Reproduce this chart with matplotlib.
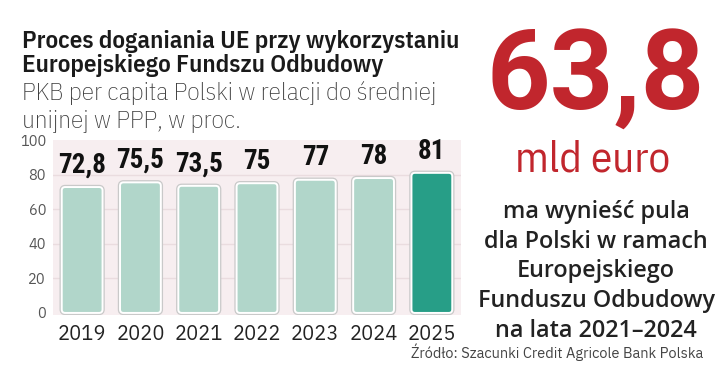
import matplotlib
matplotlib.use("Agg")
import matplotlib.pyplot as plt
from matplotlib.patches import FancyBboxPatch

years = ["2019", "2020", "2021", "2022", "2023", "2024", "2025"]
values = [72.8, 75.5, 73.5, 75, 77, 78, 81]
value_labels = ["72,8", "75,5", "73,5", "75", "77", "78", "81"]
yticks = [0, 20, 40, 60, 80, 100]

F_VAL = ["Roboto Condensed", "Barlow Condensed", "Liberation Sans Narrow", "DejaVu Sans"]
F_COND_B = ["IBM Plex Sans Condensed", "Barlow Semi Condensed", "Roboto", "DejaVu Sans"]
F_COND_L = ["IBM Plex Sans Condensed Light", "IBM Plex Sans Condensed", "Barlow Semi Condensed", "Roboto", "DejaVu Sans"]
F_PLEX = ["IBM Plex Sans", "Noto Sans", "DejaVu Sans"]
F_PLEX_L = ["IBM Plex Sans Light", "IBM Plex Sans", "Noto Sans", "DejaVu Sans"]
F_SEMI = ["Open Sans", "DejaVu Sans"]
F_BIG = ["Roboto", "DejaVu Sans"]

W, H = 721, 389
fig = plt.figure(figsize=(W / 100, H / 100), dpi=100)
fig.patch.set_facecolor("white")

def fx(px):
    return px / W

def fy(py):
    return 1 - py / H

ax = fig.add_axes([fx(53), fy(315), fx(461) - fx(53), fy(140) - fy(315)])
ax.set_xlim(-0.5, 6.5)
ax.set_ylim(-1.2, 100)
ax.set_facecolor("#f7eef0")
for s in ax.spines.values():
    s.set_visible(False)

for t in [20, 40, 60, 80]:
    ax.axhline(t, color="#eadcdf", lw=1.0, zorder=0.5)

light = "#b1d6ca"
dark = "#279e87"
colors = [light] * 6 + [dark]
bars = ax.bar(range(len(years)), values, width=0.70, color=colors)
aspect = 58.3 / 1.73
for b, c in zip(bars, colors):
    x, y = b.get_x(), b.get_y()
    w, h = b.get_width(), b.get_height()
    b.set_visible(False)
    outer = FancyBboxPatch((x, y), w, h, boxstyle="round,pad=0,rounding_size=0.06",
                           mutation_aspect=aspect, facecolor=c, edgecolor="#c9c9c9",
                           lw=3.2, zorder=2)
    inner = FancyBboxPatch((x, y), w, h, boxstyle="round,pad=0,rounding_size=0.06",
                           mutation_aspect=aspect, facecolor=c, edgecolor="white",
                           lw=1.4, zorder=3)
    ax.add_patch(outer)
    ax.add_patch(inner)

for i, (v, lab) in enumerate(zip(values, value_labels)):
    ax.annotate(lab, (i, v), xytext=(0, 6), textcoords="offset points",
                ha="center", va="bottom", fontsize=19.5, fontweight="bold",
                family=F_VAL, color="#111111")

ax.set_yticks(yticks)
ax.set_yticklabels([str(t) for t in yticks], fontsize=10.5, color="#555555",
                   family=F_PLEX_L, fontweight="light")
ax.tick_params(axis="y", length=0, pad=5)
ax.set_xticks(range(len(years)))
ax.set_xticklabels(years, fontsize=14.5, color="#222222", family=F_PLEX)
ax.tick_params(axis="x", length=0, pad=7)

# Titles
fig.text(fx(22), fy(48), "Proces doganiania UE przy wykorzystaniu", fontsize=18,
         fontweight="semibold", family=F_COND_B, color="#1a1a1a", va="baseline")
fig.text(fx(22), fy(72), "Europejskiego Fundszu Odbudowy", fontsize=18,
         fontweight="semibold", family=F_COND_B, color="#1a1a1a", va="baseline")
fig.text(fx(22), fy(100), "PKB per capita Polski w relacji do średniej", fontsize=18.3,
         fontweight="light", family=F_COND_L, color="#3a3a3a", va="baseline")
fig.text(fx(22), fy(128), "unijnej w PPP, w proc.", fontsize=18.3,
         fontweight="light", family=F_COND_L, color="#3a3a3a", va="baseline")

red = "#c1262d"
cx = fx(596)
fig.text(cx, fy(110), "63,8", fontsize=80, fontweight="bold", family=F_BIG,
         color=red, ha="center", va="baseline")
fig.text(fx(593), fy(172), "mld euro", fontsize=31, family=F_COND_B,
         color=red, ha="center", va="baseline")

right_lines = ["ma wynieść pula", "dla Polski w ramach", "Europejskiego",
               "Funduszu Odbudowy", "na lata 2021–2024"]
for k, line in enumerate(right_lines):
    fig.text(cx, fy(218 + 29.7 * k), line, fontsize=16.8, fontweight="semibold",
             family=F_SEMI, color="#222222", ha="center", va="baseline")

fig.text(fx(703), fy(358), "Źródło: Szacunki Credit Agricole Bank Polska", fontsize=10.5,
         fontweight="light", family=F_PLEX_L, color="#444444", ha="right", va="baseline")

fig.savefig("out.png", dpi=100)
